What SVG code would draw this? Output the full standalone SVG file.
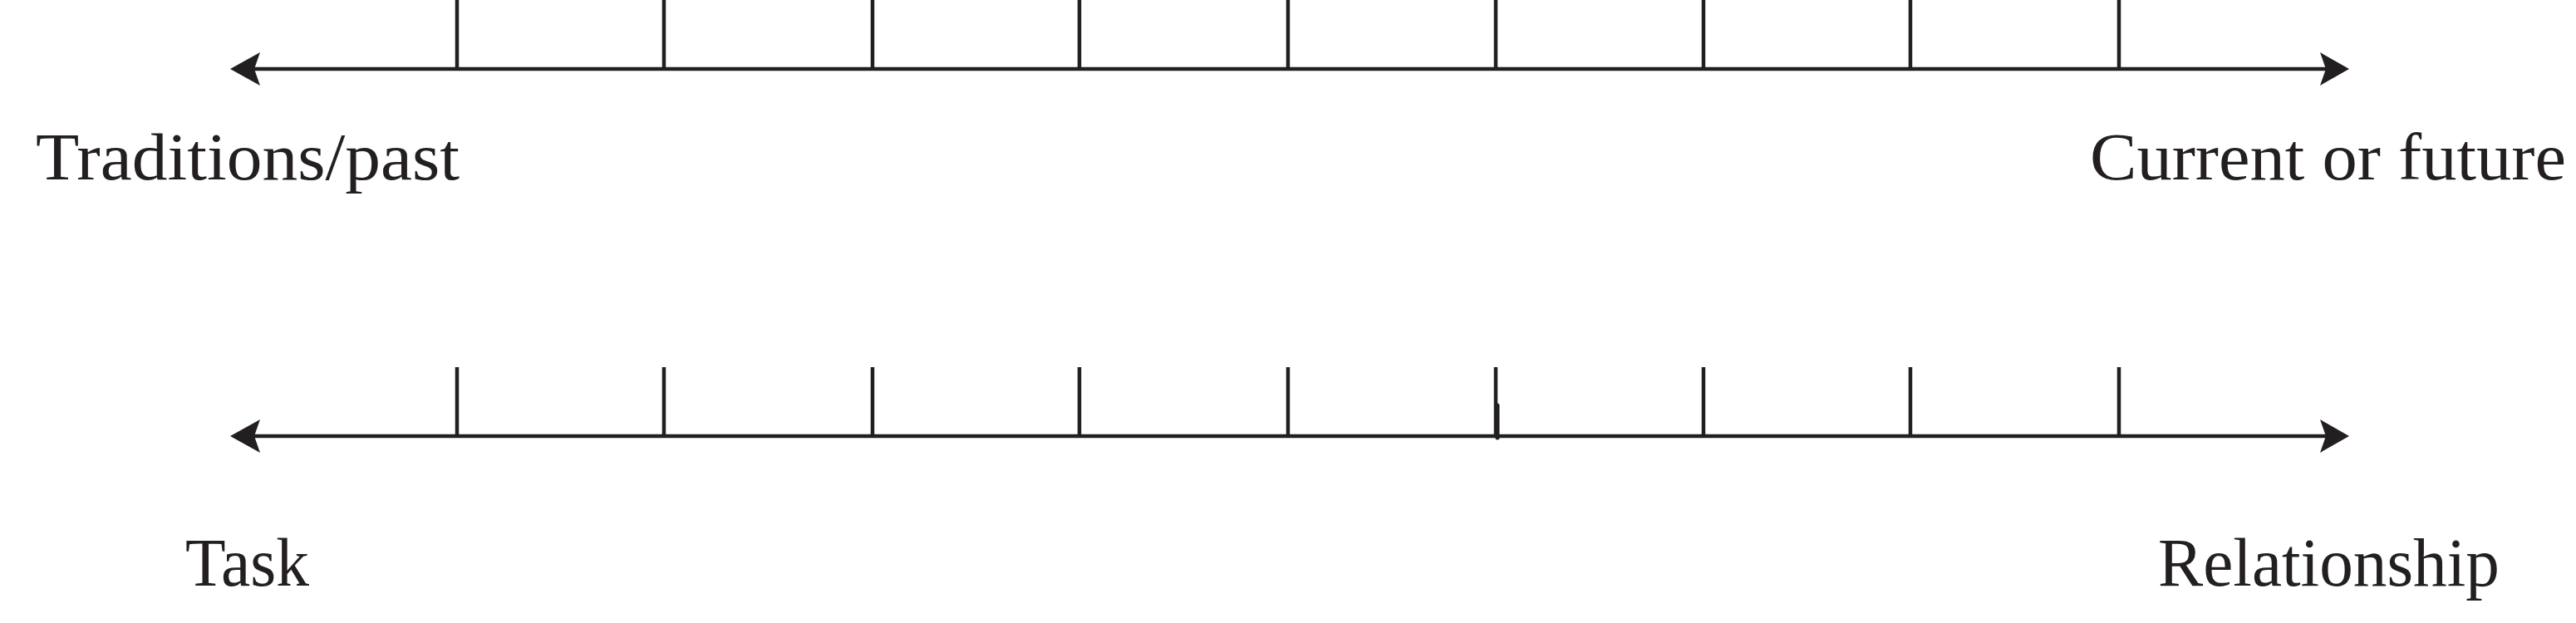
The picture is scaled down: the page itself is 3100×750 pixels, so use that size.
<svg xmlns="http://www.w3.org/2000/svg" width="3100" height="750" viewBox="0 0 3100 750">
<style>
.ln{stroke:#231f20;stroke-width:4.5;fill:none}
.ah{fill:#231f20}
.lb{font-family:"Liberation Serif",serif;fill:#231f20}
</style>
<rect width="3100" height="750" fill="#fff"/>
<g id="connectors">
<g id="scale1">
<line class="ln" x1="300" y1="83" x2="2805" y2="83"/>
<polygon class="ah" points="277,83 313,63 306,83 313,103"/>
<polygon class="ah" points="2827,83 2792,63 2799,83 2792,103"/>
<g class="ticks">
<line class="ln" x1="550" y1="0" x2="550" y2="83"/>
<line class="ln" x1="799" y1="0" x2="799" y2="83"/>
<line class="ln" x1="1050" y1="0" x2="1050" y2="83"/>
<line class="ln" x1="1299" y1="0" x2="1299" y2="83"/>
<line class="ln" x1="1550" y1="0" x2="1550" y2="83"/>
<line class="ln" x1="1800" y1="0" x2="1800" y2="83"/>
<line class="ln" x1="2050" y1="0" x2="2050" y2="83"/>
<line class="ln" x1="2299" y1="0" x2="2299" y2="83"/>
<line class="ln" x1="2550" y1="0" x2="2550" y2="83"/>
</g>
</g>
<g id="scale2">
<line class="ln" x1="300" y1="525" x2="2805" y2="525"/>
<polygon class="ah" points="277,525 313,505 306,525 313,545"/>
<polygon class="ah" points="2827,525 2792,505 2799,525 2792,545"/>
<g class="ticks">
<line class="ln" x1="550" y1="442" x2="550" y2="525"/>
<line class="ln" x1="799" y1="442" x2="799" y2="525"/>
<line class="ln" x1="1050" y1="442" x2="1050" y2="525"/>
<line class="ln" x1="1299" y1="442" x2="1299" y2="525"/>
<line class="ln" x1="1550" y1="442" x2="1550" y2="525"/>
<line class="ln" x1="1800" y1="442" x2="1800" y2="525"/>
<line class="ln" x1="1802" y1="488" x2="1802" y2="527" style="stroke-width:5;stroke-linecap:round"/>
<line class="ln" x1="2050" y1="442" x2="2050" y2="525"/>
<line class="ln" x1="2299" y1="442" x2="2299" y2="525"/>
<line class="ln" x1="2550" y1="442" x2="2550" y2="525"/>
</g>
</g>
</g>
<g id="label-traditions"><text class="lb" x="43" y="216" font-size="80" textLength="510" lengthAdjust="spacingAndGlyphs">Traditions/past</text></g>
<g id="label-current"><text class="lb" x="2515" y="216" font-size="80" textLength="573" lengthAdjust="spacingAndGlyphs">Current or future</text></g>
<g id="label-task"><text class="lb" x="223" y="705" font-size="82" textLength="149" lengthAdjust="spacingAndGlyphs">Task</text></g>
<g id="label-relationship"><text class="lb" x="2597" y="705" font-size="82" textLength="411" lengthAdjust="spacingAndGlyphs">Relationship</text></g>
</svg>
